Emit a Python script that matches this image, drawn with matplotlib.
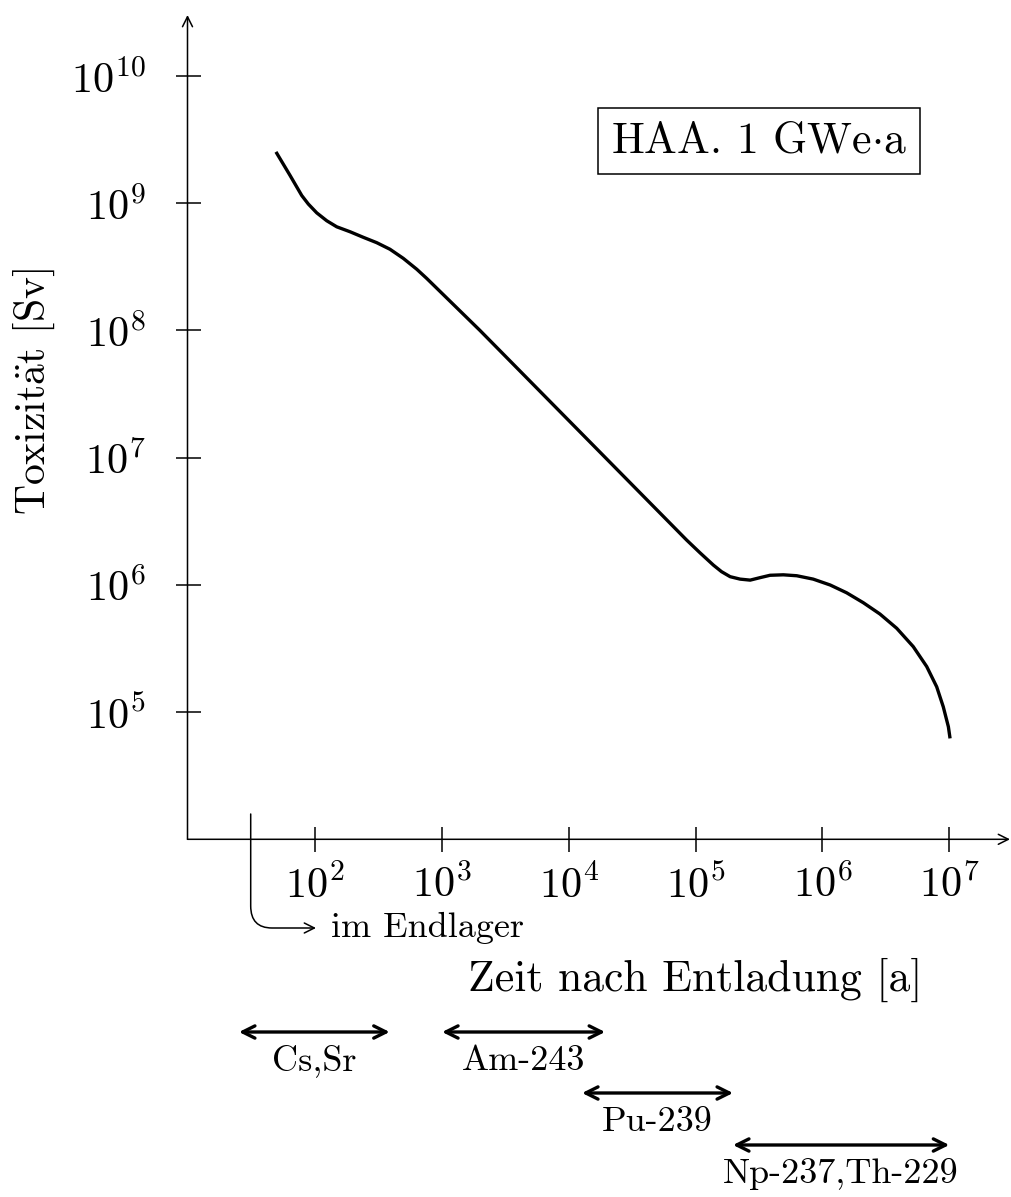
import numpy as np
import matplotlib.pyplot as plt
import matplotlib.transforms as mtransforms
from matplotlib.path import Path
from matplotlib.patches import FancyArrowPatch

plt.rcParams['font.family'] = 'cmr10'
plt.rcParams['mathtext.fontset'] = 'cm'
plt.rcParams['axes.formatter.use_mathtext'] = True

# Zeit nach Entladung [a] / Toxizitaet [Sv]
years = [49.7, 63.1, 78.2, 88.1, 102.6, 123, 147.6, 188, 239, 305, 388, 494, 631, 755,
         1990, 8.49e4, 1.08e5, 1.38e5, 1.60e5, 1.87e5, 2.24e5, 2.69e5, 3.22e5, 3.86e5,
         4.91e5, 6.27e5, 8.45e5, 1.15e6, 1.55e6, 2.10e6, 2.84e6, 3.85e6, 5.20e6, 6.64e6,
         7.96e6, 8.97e6, 9.84e6, 1.01e7]
toxicity = [2.47e9, 1.66e9, 1.15e9, 9.86e8, 8.41e8, 7.29e8, 6.53e8, 5.97e8, 5.40e8, 4.90e8,
            4.35e8, 3.69e8, 3.03e8, 2.57e8, 1.0e8, 2.25e6, 1.79e6, 1.43e6, 1.27e6, 1.16e6,
            1.11e6, 1.09e6, 1.14e6, 1.19e6, 1.20e6, 1.18e6, 1.11e6, 9.98e5, 8.67e5, 7.24e5,
            5.90e5, 4.56e5, 3.27e5, 2.28e5, 1.58e5, 1.10e5, 7.67e4, 6.40e4]

xticks = [1e2, 1e3, 1e4, 1e5, 1e6, 1e7]
yticks = [1e5, 1e6, 1e7, 1e8, 1e9, 1e10]

# dominating nuclides and their time ranges [a]
nuclides = ['Cs,Sr', 'Am-243', 'Pu-239', 'Np-237,Th-229']
span_from = [25, 1000, 1.27e4, 1.97e5]
span_to = [386, 1.93e4, 1.97e5, 1.0e7]
row_y = [1032, 1032, 1093, 1145]   # pixel rows of the arrows

W, H = 1011, 1197
fig = plt.figure(figsize=(W / 100, H / 100), dpi=100)
# pixel coordinates (origin top left) -> display
pix = mtransforms.Affine2D().scale(1, -1).translate(0, H)

x0, x1, yb, yt = 187.5, 1010, 839.3, 15
ax = fig.add_axes([x0 / W, (H - yb) / H, (x1 - x0) / W, (yb - yt) / H])
ax.set_xscale('log')
ax.set_yscale('log')
ax.set_xlim(10**0.992, 10**7.479)
ax.set_ylim(1e4, 10**10.48)

ax.plot(years, toxicity, color='black', lw=2.4, solid_joinstyle='round')

for s in ax.spines.values():
    s.set_visible(False)
ax.patch.set_visible(False)
arr = dict(arrowstyle='->', lw=1.1, color='black', shrinkA=0, shrinkB=0, mutation_scale=18)
ax.annotate('', xy=(1, 0), xytext=(0, 0), xycoords='axes fraction', arrowprops=arr)
ax.annotate('', xy=(0, 1), xytext=(0, 0), xycoords='axes fraction', arrowprops=arr)

ax.set_xticks(xticks)
ax.set_yticks(yticks)
ax.minorticks_off()
ax.tick_params(direction='inout', length=18, width=1.1, labelsize=30.5)
ax.tick_params(axis='x', pad=9)
ax.tick_params(axis='y', pad=21)

# labels
fig.text(695 / W, 1 - 980 / H, 'Zeit nach Entladung [a]', fontsize=31.5,
         ha='center', va='center')
fig.text(34.5 / W, 1 - 391.5 / H, r'Toxizit$\ddot{\mathrm{a}}$t [Sv]', fontsize=30,
         rotation=90, ha='center', va='center')
fig.text(759 / W, 1 - 141 / H, r'HAA. 1 GWe$\cdot$a', fontsize=31.5, ha='center', va='center',
         bbox=dict(boxstyle='square,pad=0.3', fc='white', ec='black', lw=1.1))

# "im Endlager" hook arrow
verts = [(250.7, 814), (250.7, 906), (250.7, 928), (272, 928), (316, 928)]
codes = [Path.MOVETO, Path.LINETO, Path.CURVE3, Path.CURVE3, Path.LINETO]
hook = FancyArrowPatch(path=Path(verts, codes), arrowstyle='->', mutation_scale=18,
                       lw=1.1, color='black', transform=pix)
fig.add_artist(hook)
fig.text(331, H - 928, 'im Endlager', fontsize=26, ha='left', va='center',
         transform=None)

# nuclide ranges
blend = mtransforms.blended_transform_factory(ax.transData, pix)
for name, a, b, y in zip(nuclides, span_from, span_to, row_y):
    ax.annotate('', xy=(b, y), xytext=(a, y), xycoords=blend, annotation_clip=False,
                arrowprops=dict(arrowstyle='<->', lw=2.4, color='black',
                                shrinkA=0, shrinkB=0, mutation_scale=22))
    ax.text(np.sqrt(a * b), y + 29, name, transform=blend, fontsize=26,
            ha='center', va='center', clip_on=False)

fig.savefig('out.png', dpi=100)
